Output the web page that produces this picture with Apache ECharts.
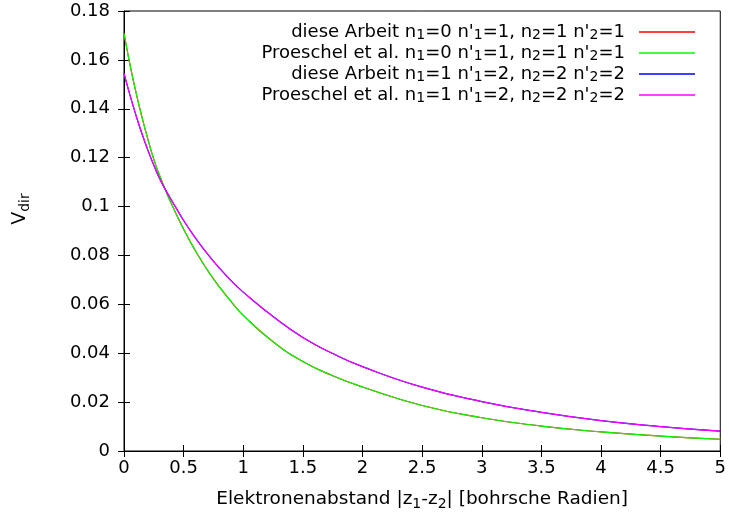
<!DOCTYPE html>
<html>
<head>
<meta charset="utf-8">
<script src="https://cdn.jsdelivr.net/npm/echarts@6/dist/echarts.min.js"></script>
<style>html,body{margin:0;padding:0;background:#fff;}#c{width:729px;height:518px;}</style>
</head>
<body>
<div id="c"></div>
<script>
// x positions (Bohr radii)
const xs = [0, 0.05, 0.1, 0.15, 0.2, 0.25, 0.3, 0.36, 0.4, 0.5, 0.6, 0.7, 0.8, 0.9, 1.0, 1.25, 1.5, 1.75, 2.0, 2.5, 3.0, 3.5, 4.0, 4.5, 5.0];
// n1=0 n'1=1, n2=1 n'2=1
const dieseA = [0.1709, 0.1581, 0.1468, 0.1367, 0.1276, 0.1193, 0.1125, 0.1053, 0.1009, 0.0907, 0.0818, 0.0740, 0.0671, 0.0610, 0.0555, 0.0447, 0.0366, 0.0308, 0.0262, 0.0186, 0.0136, 0.0102, 0.0078, 0.0061, 0.0048];
const proeschelA = [0.1709, 0.1581, 0.1468, 0.1367, 0.1276, 0.1193, 0.1125, 0.1053, 0.1009, 0.0907, 0.0818, 0.0740, 0.0671, 0.0610, 0.0555, 0.0447, 0.0366, 0.0308, 0.0262, 0.0186, 0.0136, 0.0102, 0.0078, 0.0061, 0.0048];
// n1=1 n'1=2, n2=2 n'2=2
const dieseB = [0.1545, 0.1456, 0.1374, 0.1299, 0.1231, 0.1169, 0.1113, 0.1058, 0.1025, 0.0943, 0.0871, 0.0806, 0.0748, 0.0696, 0.0650, 0.0550, 0.0464, 0.0399, 0.0345, 0.0261, 0.0202, 0.0158, 0.0124, 0.0100, 0.0081];
const proeschelB = [0.1545, 0.1456, 0.1374, 0.1299, 0.1231, 0.1169, 0.1113, 0.1058, 0.1025, 0.0943, 0.0871, 0.0806, 0.0748, 0.0696, 0.0650, 0.0550, 0.0464, 0.0399, 0.0345, 0.0261, 0.0202, 0.0158, 0.0124, 0.0100, 0.0081];

const seriesNames = [
  "diese Arbeit n{s|1}=0 n'{s|1}=1, n{s|2}=1 n'{s|2}=1",
  "Proeschel et al. n{s|1}=0 n'{s|1}=1, n{s|2}=1 n'{s|2}=1",
  "diese Arbeit n{s|1}=1 n'{s|1}=2, n{s|2}=2 n'{s|2}=2",
  "Proeschel et al. n{s|1}=1 n'{s|1}=2, n{s|2}=2 n'{s|2}=2"
];
const seriesData = [dieseA, proeschelA, dieseB, proeschelB];
const colors = ['#ff0000', '#00ff00', '#0000ff', '#ff00ff'];

const FONT = '"DejaVu Sans", sans-serif';
const richLegend = {
  s: { fontSize: 14, fontFamily: FONT, color: '#000', verticalAlign: 'bottom', lineHeight: 20 }
};
const rich = {
  s: { fontSize: 14, fontFamily: FONT, color: '#000', verticalAlign: 'bottom', lineHeight: 24 }
};

const chart = echarts.init(document.getElementById('c'), null, { renderer: 'canvas' });
const tickStyle = { show: true, inside: true, length: 6, lineStyle: { color: '#000', width: 1 } };

chart.setOption({
  animation: false,
  color: colors,
  grid: { left: 122, right: 7, top: 11, bottom: 67, show: true, borderColor: '#000', borderWidth: 1, backgroundColor: 'transparent' },
  legend: {
    orient: 'vertical',
    right: 29,
    top: 17,
    align: 'right',
    itemWidth: 56,
    itemHeight: 1.5,
    itemGap: 1,
    icon: 'rect',
    data: seriesNames,
    textStyle: { fontSize: 18, fontFamily: FONT, color: '#000', lineHeight: 17, rich: richLegend, padding: [0, 9, 0, 0] }
  },
  xAxis: [{
    type: 'value', min: 0, max: 5, interval: 0.5,
    name: 'Elektronenabstand |z{s|1}-z{s|2}| [bohrsche Radien]',
    nameLocation: 'middle', nameGap: 36,
    nameTextStyle: { fontSize: 18.5, fontFamily: FONT, color: '#000', lineHeight: 22, rich: rich },
    axisLine: { show: true, lineStyle: { color: '#000' } },
    axisTick: tickStyle,
    axisLabel: { fontSize: 18, fontFamily: FONT, color: '#000', margin: 8 },
    splitLine: { show: false }
  }, {
    type: 'value', min: 0, max: 5, interval: 0.5, position: 'top',
    axisLine: { show: false }, axisTick: tickStyle, axisLabel: { show: false }, splitLine: { show: false }
  }],
  yAxis: [{
    type: 'value', min: 0, max: 0.18, interval: 0.02,
    name: 'V{s|dir}',
    nameLocation: 'middle', nameGap: 92, nameRotate: 90,
    nameTextStyle: { fontSize: 19, fontFamily: FONT, color: '#000', lineHeight: 22, rich: rich, padding: [0, 0, 0, 44] },
    axisLine: { show: true, lineStyle: { color: '#000' } },
    axisTick: tickStyle,
    axisLabel: { fontSize: 18, fontFamily: FONT, color: '#000', margin: 14 },
    splitLine: { show: false }
  }, {
    type: 'value', min: 0, max: 0.18, interval: 0.02, position: 'right',
    axisLine: { show: false }, axisTick: tickStyle, axisLabel: { show: false }, splitLine: { show: false }
  }],
  series: seriesNames.map((n, i) => ({
    name: n,
    type: 'line',
    xAxisIndex: 0, yAxisIndex: 0,
    showSymbol: false,
    smooth: 0.5,
    lineStyle: { width: 1.2, color: colors[i] },
    itemStyle: { color: colors[i] },
    data: xs.map((x, k) => [x, seriesData[i][k]])
  }))
});
</script>
</body>
</html>
